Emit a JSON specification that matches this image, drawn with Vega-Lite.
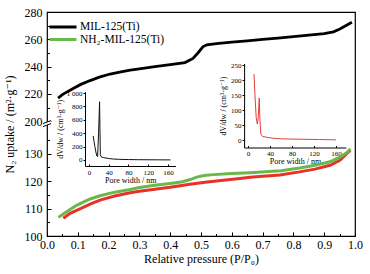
{
  "$schema": "https://vega.github.io/schema/vega-lite/v6.json",
  "width": 308,
  "height": 224,
  "autosize": {"type": "none"},
  "padding": {"left": 47, "top": 12, "right": 15, "bottom": 38},
  "background": "white",
  "config": {
    "view": {"stroke": "black", "strokeWidth": 1.2},
    "font": "Times New Roman, Liberation Serif, DejaVu Serif, serif",
    "axis": {"labelFont": "Times New Roman, Liberation Serif, DejaVu Serif, serif", "titleFont": "Times New Roman, Liberation Serif, DejaVu Serif, serif", "domainColor": "black", "tickColor": "black", "labelColor": "black", "titleColor": "black", "grid": false, "titleFontWeight": "normal", "labelFlush": false, "labelOverlap": false},
    "legend": {"labelFont": "Times New Roman, Liberation Serif, DejaVu Serif, serif", "labelColor": "black", "padding": 0}
  },
  "datasets": {
    "iso": [
      {"p": 0.036, "v": 217, "s": "MIL-125(Ti)"},
      {"p": 0.05, "v": 219.5, "s": "MIL-125(Ti)"},
      {"p": 0.065, "v": 221.5, "s": "MIL-125(Ti)"},
      {"p": 0.085, "v": 224, "s": "MIL-125(Ti)"},
      {"p": 0.11, "v": 227, "s": "MIL-125(Ti)"},
      {"p": 0.14, "v": 229.8, "s": "MIL-125(Ti)"},
      {"p": 0.17, "v": 232.3, "s": "MIL-125(Ti)"},
      {"p": 0.205, "v": 234.6, "s": "MIL-125(Ti)"},
      {"p": 0.24, "v": 236.2, "s": "MIL-125(Ti)"},
      {"p": 0.27, "v": 237.5, "s": "MIL-125(Ti)"},
      {"p": 0.3, "v": 238.4, "s": "MIL-125(Ti)"},
      {"p": 0.35, "v": 240, "s": "MIL-125(Ti)"},
      {"p": 0.4, "v": 241.5, "s": "MIL-125(Ti)"},
      {"p": 0.448, "v": 243, "s": "MIL-125(Ti)"},
      {"p": 0.474, "v": 246, "s": "MIL-125(Ti)"},
      {"p": 0.49, "v": 250, "s": "MIL-125(Ti)"},
      {"p": 0.506, "v": 254.5, "s": "MIL-125(Ti)"},
      {"p": 0.519, "v": 256, "s": "MIL-125(Ti)"},
      {"p": 0.55, "v": 256.8, "s": "MIL-125(Ti)"},
      {"p": 0.6, "v": 257.9, "s": "MIL-125(Ti)"},
      {"p": 0.65, "v": 258.9, "s": "MIL-125(Ti)"},
      {"p": 0.7, "v": 259.9, "s": "MIL-125(Ti)"},
      {"p": 0.75, "v": 260.9, "s": "MIL-125(Ti)"},
      {"p": 0.8, "v": 261.9, "s": "MIL-125(Ti)"},
      {"p": 0.85, "v": 263, "s": "MIL-125(Ti)"},
      {"p": 0.9, "v": 264.2, "s": "MIL-125(Ti)"},
      {"p": 0.93, "v": 265.5, "s": "MIL-125(Ti)"},
      {"p": 0.951, "v": 267.5, "s": "MIL-125(Ti)"},
      {"p": 0.974, "v": 270.5, "s": "MIL-125(Ti)"},
      {"p": 0.99, "v": 272.5, "s": "MIL-125(Ti)"},
      {"p": 0.053, "v": 106.5, "s": "unlabelled"},
      {"p": 0.075, "v": 108.3, "s": "unlabelled"},
      {"p": 0.107, "v": 109.9, "s": "unlabelled"},
      {"p": 0.14, "v": 111.6, "s": "unlabelled"},
      {"p": 0.172, "v": 113.1, "s": "unlabelled"},
      {"p": 0.22, "v": 114.6, "s": "unlabelled"},
      {"p": 0.27, "v": 115.8, "s": "unlabelled"},
      {"p": 0.3, "v": 116.3, "s": "unlabelled"},
      {"p": 0.35, "v": 117.1, "s": "unlabelled"},
      {"p": 0.4, "v": 117.8, "s": "unlabelled"},
      {"p": 0.464, "v": 118.9, "s": "unlabelled"},
      {"p": 0.52, "v": 119.7, "s": "unlabelled"},
      {"p": 0.58, "v": 120.4, "s": "unlabelled"},
      {"p": 0.627, "v": 121, "s": "unlabelled"},
      {"p": 0.659, "v": 121.4, "s": "unlabelled"},
      {"p": 0.7, "v": 121.8, "s": "unlabelled"},
      {"p": 0.756, "v": 122.3, "s": "unlabelled"},
      {"p": 0.82, "v": 123.4, "s": "unlabelled"},
      {"p": 0.87, "v": 124.4, "s": "unlabelled"},
      {"p": 0.919, "v": 125.8, "s": "unlabelled"},
      {"p": 0.951, "v": 127.6, "s": "unlabelled"},
      {"p": 0.973, "v": 130, "s": "unlabelled"},
      {"p": 0.985, "v": 131.3, "s": "unlabelled"},
      {"p": 0.037, "v": 106.8, "s": "NH₂-MIL-125(Ti)"},
      {"p": 0.06, "v": 108.6, "s": "NH₂-MIL-125(Ti)"},
      {"p": 0.096, "v": 111.2, "s": "NH₂-MIL-125(Ti)"},
      {"p": 0.14, "v": 113.5, "s": "NH₂-MIL-125(Ti)"},
      {"p": 0.172, "v": 114.7, "s": "NH₂-MIL-125(Ti)"},
      {"p": 0.22, "v": 116, "s": "NH₂-MIL-125(Ti)"},
      {"p": 0.27, "v": 117, "s": "NH₂-MIL-125(Ti)"},
      {"p": 0.3, "v": 117.7, "s": "NH₂-MIL-125(Ti)"},
      {"p": 0.35, "v": 118.5, "s": "NH₂-MIL-125(Ti)"},
      {"p": 0.4, "v": 119.2, "s": "NH₂-MIL-125(Ti)"},
      {"p": 0.44, "v": 119.8, "s": "NH₂-MIL-125(Ti)"},
      {"p": 0.465, "v": 120.6, "s": "NH₂-MIL-125(Ti)"},
      {"p": 0.486, "v": 121.5, "s": "NH₂-MIL-125(Ti)"},
      {"p": 0.51, "v": 122.1, "s": "NH₂-MIL-125(Ti)"},
      {"p": 0.54, "v": 122.4, "s": "NH₂-MIL-125(Ti)"},
      {"p": 0.6, "v": 122.8, "s": "NH₂-MIL-125(Ti)"},
      {"p": 0.66, "v": 123.1, "s": "NH₂-MIL-125(Ti)"},
      {"p": 0.72, "v": 123.5, "s": "NH₂-MIL-125(Ti)"},
      {"p": 0.76, "v": 123.8, "s": "NH₂-MIL-125(Ti)"},
      {"p": 0.82, "v": 124.8, "s": "NH₂-MIL-125(Ti)"},
      {"p": 0.87, "v": 125.8, "s": "NH₂-MIL-125(Ti)"},
      {"p": 0.919, "v": 127.1, "s": "NH₂-MIL-125(Ti)"},
      {"p": 0.951, "v": 128.8, "s": "NH₂-MIL-125(Ti)"},
      {"p": 0.973, "v": 130.4, "s": "NH₂-MIL-125(Ti)"},
      {"p": 0.985, "v": 131.8, "s": "NH₂-MIL-125(Ti)"}
    ],
    "psdA": [
      {"w": 8.5, "d": 360}, {"w": 10, "d": 290}, {"w": 12, "d": 200}, {"w": 14, "d": 120},
      {"w": 16, "d": 60}, {"w": 17.5, "d": 50}, {"w": 19.5, "d": 400}, {"w": 21.5, "d": 870},
      {"w": 23, "d": 80}, {"w": 25, "d": 45}, {"w": 30, "d": 35}, {"w": 40, "d": 22},
      {"w": 50, "d": 14}, {"w": 60, "d": 10}, {"w": 80, "d": 6}, {"w": 100, "d": 4},
      {"w": 120, "d": 3}, {"w": 140, "d": 2}, {"w": 165, "d": 1}
    ],
    "psdB": [
      {"w": 11, "d": 220}, {"w": 13, "d": 140}, {"w": 15, "d": 75}, {"w": 17, "d": 53},
      {"w": 18.5, "d": 70}, {"w": 20.5, "d": 140}, {"w": 22, "d": 60}, {"w": 23.5, "d": 18},
      {"w": 27, "d": 12}, {"w": 34, "d": 9}, {"w": 45, "d": 6}, {"w": 60, "d": 4},
      {"w": 80, "d": 3}, {"w": 100, "d": 2.5}, {"w": 130, "d": 1.5}, {"w": 160, "d": 0.5}
    ],
    "brk": [{"p": 0, "v": 198.3}]
  },
  "layer": [
    {
      "data": {"name": "iso"},
      "transform": [{"filter": "datum.s === 'MIL-125(Ti)'"}],
      "mark": {"type": "line", "strokeWidth": 2.8},
      "encoding": {
        "x": {"field": "p", "type": "quantitative", "scale": {"domain": [0, 1], "nice": false},
          "axis": {"orient": "bottom", "values": [0, 0.1, 0.2, 0.3, 0.4, 0.5, 0.6, 0.7, 0.8, 0.9, 1], "format": ".1f", "tickSize": -4, "labelPadding": 7, "labelFontSize": 12, "domain": false, "title": "Relative pressure (P/P₀)", "titleFontSize": 12, "titlePadding": 3}},
        "y": {"field": "v", "type": "quantitative", "scale": {"domain": [116, 280], "nice": false, "zero": false},
          "axis": {"orient": "left", "values": [200, 220, 240, 260, 280], "tickSize": -4, "labelPadding": 9, "labelFontSize": 12, "domain": false, "title": "N₂ uptake / (m²·g⁻¹)", "titleFontSize": 12, "titlePadding": 8}},
        "color": {"field": "s", "type": "nominal",
          "scale": {"domain": ["MIL-125(Ti)", "NH₂-MIL-125(Ti)", "unlabelled"], "range": ["#000000", "#6bb84a", "#e5332a"]},
          "legend": {"values": ["MIL-125(Ti)", "NH₂-MIL-125(Ti)"], "orient": "none", "legendX": 10, "legendY": 9, "title": null, "symbolType": "M-3,0H3", "symbolSize": 81, "symbolStrokeWidth": 3, "labelFontSize": 11.5, "labelOffset": 11, "rowPadding": 0.5}}
      }
    },
    {
      "data": {"name": "iso"},
      "transform": [{"filter": "datum.s !== 'MIL-125(Ti)'"}],
      "mark": {"type": "line", "strokeWidth": 3},
      "encoding": {
        "x": {"field": "p", "type": "quantitative", "scale": {"domain": [0, 1], "nice": false},
          "axis": {"orient": "bottom", "values": [0.05, 0.15, 0.25, 0.35, 0.45, 0.55, 0.65, 0.75, 0.85, 0.95], "tickSize": -2.5, "labels": false, "domain": false, "title": null}},
        "y": {"field": "v", "type": "quantitative", "scale": {"domain": [100, 181.75], "nice": false, "zero": false},
          "axis": {"orient": "left", "values": [100, 110, 120, 130], "tickSize": -4, "labelPadding": 9, "labelFontSize": 12, "domain": false, "title": null}},
        "color": {"field": "s", "type": "nominal", "legend": null}
      }
    },
    {
      "data": {"name": "iso"},
      "transform": [{"filter": "datum.s === 'MIL-125(Ti)'"}],
      "mark": {"type": "line", "strokeOpacity": 0},
      "encoding": {
        "x": {"field": "p", "type": "quantitative", "scale": {"domain": [0, 1], "nice": false}, "axis": null},
        "y": {"field": "v", "type": "quantitative", "scale": {"domain": [116, 280], "nice": false, "zero": false},
          "axis": {"orient": "left", "values": [210, 230, 250, 270], "tickSize": -2.5, "labels": false, "domain": false, "title": null}}
      }
    },
    {
      "data": {"name": "iso"},
      "transform": [{"filter": "datum.s !== 'MIL-125(Ti)'"}],
      "mark": {"type": "line", "strokeOpacity": 0},
      "encoding": {
        "x": {"field": "p", "type": "quantitative", "scale": {"domain": [0, 1], "nice": false}, "axis": null},
        "y": {"field": "v", "type": "quantitative", "scale": {"domain": [100, 181.75], "nice": false, "zero": false},
          "axis": {"orient": "left", "values": [105, 115, 125, 135], "tickSize": -2.5, "labels": false, "domain": false, "title": null}}
      }
    },
    {
      "data": {"name": "psdA"},
      "mark": {"type": "line", "strokeWidth": 1, "color": "#111111"},
      "encoding": {
        "x": {"field": "w", "type": "quantitative", "scale": {"domain": [-8, 175], "range": [38, 128.4], "nice": false, "zero": false},
          "axis": {"orient": "bottom", "offset": -70, "values": [0, 40, 80, 120, 160], "tickSize": -2, "labelPadding": 4, "labelFontSize": 7, "title": "Pore width / nm", "titleFontSize": 8, "titlePadding": 1}},
        "y": {"field": "d", "type": "quantitative", "scale": {"domain": [-90, 1020], "range": [154, 79.7], "nice": false, "zero": false},
          "axis": {"orient": "left", "offset": -38, "values": [0, 200, 400, 600, 800, 1000], "labelExpr": "datum.value == 1000 ? '1 000' : datum.label", "tickSize": 2, "labelPadding": 1, "labelFontSize": 7, "title": "dV/dw / (cm³·g⁻¹)", "titleFontSize": 8, "titlePadding": 2}}
      }
    },
    {
      "data": {"name": "psdB"},
      "mark": {"type": "line", "strokeWidth": 1, "color": "#e0403c"},
      "encoding": {
        "x": {"field": "w", "type": "quantitative", "scale": {"domain": [-7, 178], "range": [197.1, 298.9], "nice": false, "zero": false},
          "axis": {"orient": "bottom", "offset": -88.5, "values": [0, 40, 80, 120, 160], "tickSize": -2, "labelPadding": 4, "labelFontSize": 7, "title": "Pore width / nm", "titleFontSize": 8, "titlePadding": 1}},
        "y": {"field": "d", "type": "quantitative", "scale": {"domain": [-25, 255], "range": [135.5, 51.5], "nice": false, "zero": false},
          "axis": {"orient": "left", "offset": -197.1, "values": [0, 50, 100, 150, 200, 250], "tickSize": 2, "labelPadding": 1, "labelFontSize": 7, "title": "dV/dw / (cm³·g⁻¹)", "titleFontSize": 8, "titlePadding": 3}}
      }
    },
    {
      "data": {"name": "brk"},
      "mark": {"type": "point", "shape": "M-4,0L4,-3L4,0L-4,3Z", "filled": true, "fill": "white", "strokeWidth": 0, "size": 4, "opacity": 1},
      "encoding": {
        "x": {"field": "p", "type": "quantitative", "scale": {"domain": [0, 1], "nice": false}, "axis": null},
        "y": {"field": "v", "type": "quantitative", "scale": {"domain": [116, 280], "nice": false, "zero": false}, "axis": null}
      }
    },
    {
      "data": {"name": "brk"},
      "mark": {"type": "point", "shape": "M-4,0L4,-3M-4,3L4,0", "filled": false, "stroke": "black", "strokeWidth": 1, "size": 4, "opacity": 1},
      "encoding": {
        "x": {"field": "p", "type": "quantitative", "scale": {"domain": [0, 1], "nice": false}, "axis": null},
        "y": {"field": "v", "type": "quantitative", "scale": {"domain": [116, 280], "nice": false, "zero": false}, "axis": null}
      }
    }
  ],
  "resolve": {"scale": {"x": "independent", "y": "independent"}, "axis": {"x": "independent", "y": "independent"}}
}
